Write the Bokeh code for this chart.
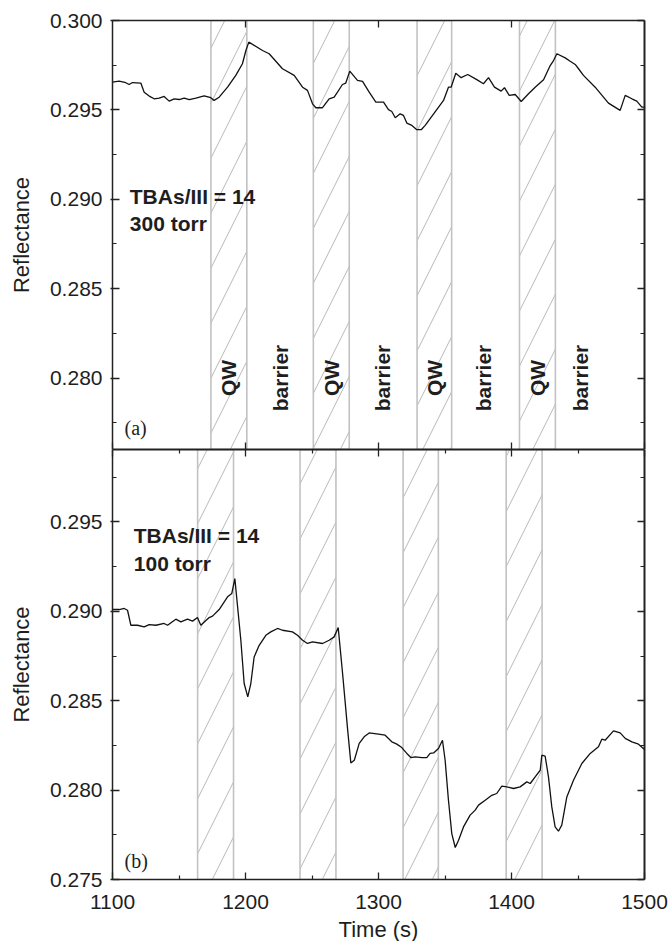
from math import pi
from bokeh.plotting import figure
from bokeh.models import Range1d, LinearAxis, FixedTicker, PrintfTickFormatter
from bokeh.layouts import column
from bokeh.core.properties import value
from bokeh.embed import file_html
from bokeh.resources import INLINE

# ---------------- data ----------------
time_a = [1100.0, 1105.0, 1110.0, 1112.5, 1115.0, 1121.3, 1123.8, 1127.6, 1131.3, 1135.1,
          1138.8, 1142.6, 1146.4, 1150.1, 1153.9, 1157.7, 1162.7, 1168.9, 1173.9, 1176.4,
          1180.2, 1186.5, 1192.7, 1197.7, 1200.3, 1202.5, 1212.8, 1217.8, 1227.8, 1236.6,
          1242.9, 1246.6, 1250.4, 1252.9, 1257.9, 1262.9, 1266.7, 1272.9, 1275.4, 1278.4,
          1284.2, 1288.0, 1293.0, 1298.0, 1303.8, 1307.5, 1310.0, 1312.6, 1316.3, 1318.8,
          1321.3, 1325.1, 1328.8, 1332.1, 1335.1, 1343.8, 1348.9, 1352.6, 1354.6, 1358.1,
          1362.1, 1367.1, 1373.9, 1378.9, 1382.7, 1387.2, 1392.2, 1394.7, 1398.3, 1402.8,
          1407.3, 1412.8, 1417.8, 1424.1, 1429.1, 1431.6, 1434.1, 1440.4, 1444.1, 1447.9,
          1450.4, 1454.1, 1462.9, 1472.9, 1481.7, 1485.5, 1490.5, 1494.2, 1498.0, 1500.0]
refl_a = [0.29655, 0.29661, 0.29652, 0.29642, 0.29653, 0.29650, 0.29599, 0.29577, 0.29562, 0.29566,
          0.29575, 0.29549, 0.29562, 0.29558, 0.29566, 0.29557, 0.29566, 0.29579, 0.29568, 0.29553,
          0.29571, 0.29627, 0.29693, 0.29758, 0.29832, 0.29879, 0.29832, 0.29814, 0.29730, 0.29693,
          0.29627, 0.29609, 0.29534, 0.29512, 0.29512, 0.29562, 0.29571, 0.29642, 0.29650, 0.29717,
          0.29665, 0.29659, 0.29599, 0.29543, 0.29543, 0.29501, 0.29491, 0.29456, 0.29478, 0.29469,
          0.29426, 0.29413, 0.29389, 0.29389, 0.29413, 0.29501, 0.29553, 0.29627, 0.29627, 0.29705,
          0.29680, 0.29698, 0.29669, 0.29646, 0.29680, 0.29627, 0.29605, 0.29624, 0.29581, 0.29586,
          0.29547, 0.29590, 0.29627, 0.29669, 0.29748, 0.29776, 0.29814, 0.29791, 0.29772, 0.29754,
          0.29730, 0.29693, 0.29627, 0.29538, 0.29497, 0.29581, 0.29562, 0.29549, 0.29515, 0.29515]

time_b = [1100.0, 1105.0, 1108.8, 1111.3, 1113.8, 1118.8, 1123.8, 1127.6, 1132.6, 1138.8,
          1141.4, 1147.6, 1151.4, 1156.4, 1160.2, 1163.9, 1166.4, 1172.7, 1175.2, 1180.2,
          1186.5, 1189.7, 1192.0, 1196.5, 1199.0, 1201.7, 1204.0, 1206.5, 1210.3, 1215.3,
          1219.0, 1224.1, 1227.8, 1235.3, 1239.1, 1242.9, 1246.6, 1250.4, 1257.9, 1262.9,
          1266.7, 1269.7, 1273.0, 1276.7, 1279.2, 1281.8, 1285.5, 1289.2, 1293.0, 1300.0,
          1305.0, 1310.0, 1313.8, 1317.5, 1321.3, 1324.3, 1327.6, 1332.6, 1336.3, 1338.8,
          1341.4, 1345.1, 1348.1, 1350.1, 1352.6, 1355.1, 1357.7, 1360.2, 1363.9, 1368.9,
          1372.7, 1375.2, 1380.2, 1385.2, 1388.9, 1392.7, 1396.5, 1401.5, 1406.5, 1411.5,
          1414.1, 1417.8, 1421.6, 1422.8, 1425.3, 1427.8, 1430.3, 1432.8, 1435.3, 1437.8,
          1441.6, 1446.6, 1452.9, 1459.2, 1465.4, 1467.9, 1470.4, 1476.7, 1481.7, 1485.5,
          1490.5, 1495.5, 1500.0]
refl_b = [0.29010, 0.29010, 0.29016, 0.29006, 0.28922, 0.28922, 0.28913, 0.28926, 0.28922, 0.28932,
          0.28922, 0.28956, 0.28941, 0.28956, 0.28945, 0.28965, 0.28922, 0.28965, 0.28973, 0.29010,
          0.29081, 0.29100, 0.29183, 0.28838, 0.28596, 0.28521, 0.28596, 0.28745, 0.28810, 0.28866,
          0.28885, 0.28904, 0.28894, 0.28885, 0.28866, 0.28838, 0.28820, 0.28829, 0.28820, 0.28838,
          0.28857, 0.28909, 0.28652, 0.28345, 0.28152, 0.28167, 0.28261, 0.28298, 0.28320, 0.28313,
          0.28307, 0.28270, 0.28257, 0.28238, 0.28205, 0.28182, 0.28186, 0.28182, 0.28182, 0.28205,
          0.28208, 0.28233, 0.28279, 0.28167, 0.27943, 0.27757, 0.27679, 0.27720, 0.27794, 0.27860,
          0.27888, 0.27916, 0.27943, 0.27971, 0.27981, 0.28022, 0.28018, 0.28009, 0.28018, 0.28046,
          0.28037, 0.28074, 0.28111, 0.28195, 0.28190, 0.28074, 0.27906, 0.27794, 0.27770, 0.27804,
          0.27962, 0.28055, 0.28149, 0.28205, 0.28242, 0.28285, 0.28279, 0.28331, 0.28320, 0.28289,
          0.28270, 0.28257, 0.28227]

qw_start_a = [1174, 1251, 1329, 1406]
qw_end_a = [1201, 1278, 1355, 1433]
qw_start_b = [1164, 1241, 1318.5, 1396]
qw_end_b = [1191, 1268, 1345, 1423]
barrier_x_a = [1226, 1303, 1379, 1452]
label_y_a = 0.2800

x_ticks = [1100, 1200, 1300, 1400, 1500]
x_minor = [1150, 1250, 1350, 1450]
y_ticks_a = [0.280, 0.285, 0.290, 0.295, 0.300]
y_ticks_b = [0.275, 0.280, 0.285, 0.290, 0.295]
y_minor = [0.2775, 0.2825, 0.2875, 0.2925, 0.2975]

X_RANGE = (1100, 1500)
Y_RANGE_A = (0.276, 0.300)
Y_RANGE_B = (0.275, 0.29905)

# ---------------- style ----------------
SANS = "Liberation Sans"
SERIF = "Liberation Serif"
AXC = "#222222"
TXT = "#1e1e1e"
FS = "21px"


def make_axis(ticks, minor, labels=False, tin=7, tout=0, min_in=4, fmt=None,
              axis_label=None, lw=1.5, standoff=8, label_standoff=4):
    ax = LinearAxis(ticker=FixedTicker(ticks=ticks, minor_ticks=minor))
    ax.axis_line_color = AXC
    ax.axis_line_width = lw
    ax.major_tick_line_color = AXC
    ax.major_tick_line_width = 1.3
    ax.minor_tick_line_color = AXC if min_in > 0 else None
    ax.minor_tick_line_width = 1.2
    ax.major_tick_in = tin
    ax.major_tick_out = tout
    ax.minor_tick_in = min_in
    ax.minor_tick_out = 0
    if labels:
        if fmt:
            ax.formatter = PrintfTickFormatter(format=fmt)
        ax.major_label_text_font = SANS
        ax.major_label_text_font_size = FS
        ax.major_label_text_color = TXT
        ax.major_label_standoff = standoff
    else:
        ax.major_label_text_color = None
        ax.major_label_standoff = 0
    if axis_label:
        ax.axis_label = axis_label
        ax.axis_label_text_font = SANS
        ax.axis_label_text_font_size = "22px"
        ax.axis_label_text_font_style = "normal"
        ax.axis_label_text_color = TXT
        ax.axis_label_standoff = label_standoff
    return ax


def base_fig(frame_h, yr, top, bottom):
    p = figure(frame_width=532, frame_height=frame_h, output_backend="svg", toolbar_location=None,
               x_range=Range1d(*X_RANGE), y_range=Range1d(*yr),
               x_axis_location=None, y_axis_location=None,
               min_border_left=112, min_border_right=28,
               min_border_top=top, min_border_bottom=bottom)
    p.outline_line_color = None
    p.background_fill_color = "white"
    p.border_fill_color = "white"
    p.grid.visible = False
    return p


def add_bands(p, starts, ends, yr):
    p.quad(left=starts, right=ends, bottom=yr[0], top=yr[1],
           fill_color="white", fill_alpha=0.0,
           hatch_pattern="/", hatch_color="#b8b8b8", hatch_weight=1.0, hatch_scale=55,
           line_color="#c2c2c2", line_width=1.6)


txt_kw = dict(text_font=value(SANS), text_font_style="bold", text_font_size="21px",
              text_color=TXT)

# ---------------- panel (a) ----------------
p1 = base_fig(429, Y_RANGE_A, 20, 0)
add_bands(p1, qw_start_a, qw_end_a, Y_RANGE_A)
p1.line(time_a, refl_a, line_color="#111111", line_width=1.3)

p1.add_layout(make_axis(y_ticks_a, y_minor, labels=True, tout=2, fmt="%.3f",
                        axis_label="Reflectance", label_standoff=13), "left")
p1.add_layout(make_axis(y_ticks_a, y_minor, lw=2), "right")
p1.add_layout(make_axis(x_ticks[1:-1], [], min_in=0), "above")
p1.add_layout(make_axis(x_ticks, [], min_in=0, lw=2), "below")

qw_centers_a = [(s + e) / 2 for s, e in zip(qw_start_a, qw_end_a)]
p1.text(x=qw_centers_a, y=[label_y_a] * 4, text=["QW"] * 4, angle=pi / 2,
        text_align="center", text_baseline="middle", **txt_kw)
p1.text(x=barrier_x_a, y=[label_y_a] * 4, text=["barrier"] * 4, angle=pi / 2,
        text_align="center", text_baseline="middle", **txt_kw)
p1.text(x=[1113, 1113], y=[0.29013, 0.28867], text=["TBAs/III = 14", "300 torr"],
        text_align="left", text_baseline="middle", **txt_kw)
p1.text(x=[1109], y=[0.27723], text=["(a)"], text_font=value(SERIF),
        text_font_size="20px", text_color=TXT, text_align="left", text_baseline="middle")

# ---------------- panel (b) ----------------
p2 = base_fig(430, Y_RANGE_B, 0, 62)
add_bands(p2, qw_start_b, qw_end_b, Y_RANGE_B)
p2.line(time_b, refl_b, line_color="#111111", line_width=1.3)

p2.add_layout(make_axis(y_ticks_b, y_minor, labels=True, tout=2, fmt="%.3f",
                        axis_label="Reflectance", label_standoff=13), "left")
p2.add_layout(make_axis(y_ticks_b, y_minor, lw=2), "right")
p2.add_layout(make_axis(x_ticks, x_minor, min_in=4, lw=2), "above")
p2.add_layout(make_axis(x_ticks, x_minor, labels=True, min_in=4, fmt="%d",
                        axis_label="Time (s)", standoff=15, label_standoff=5), "below")

p2.text(x=[1116, 1116], y=[0.29422, 0.29266], text=["TBAs/III = 14", "100 torr"],
        text_align="left", text_baseline="middle", **txt_kw)
p2.text(x=[1109], y=[0.27603], text=["(b)"], text_font=value(SERIF),
        text_font_size="20px", text_color=TXT, text_align="left", text_baseline="middle")

layout = column(p1, p2, spacing=0)
open("out.html", "w").write(file_html(layout, INLINE))
